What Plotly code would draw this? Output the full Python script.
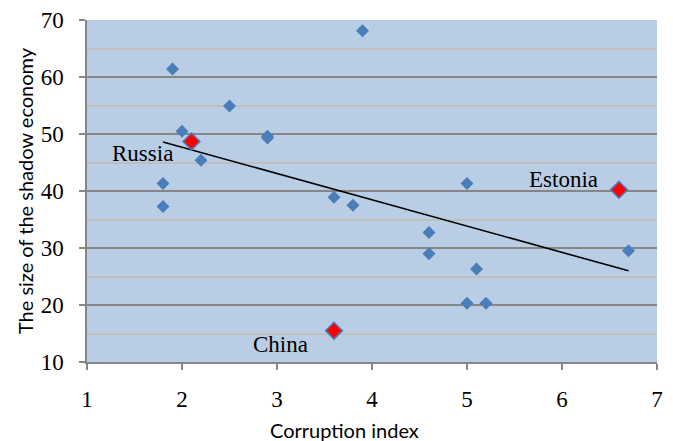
import plotly.graph_objects as go

# data
corruption = [1.9, 2.0, 2.2, 1.8, 1.8, 2.5, 2.9, 2.9, 3.9, 3.6, 3.8, 4.6, 4.6, 5.0, 5.1, 5.0, 5.2, 6.7]
shadow = [61.4, 50.5, 45.4, 41.3, 37.3, 54.9, 49.6, 49.3, 68.1, 38.9, 37.5, 32.7, 29.0, 41.3, 26.3, 20.3, 20.3, 29.5]

highlight_names = ["Russia", "China", "Estonia"]
highlight_x = [2.1, 3.6, 6.6]
highlight_y = [48.7, 15.5, 40.2]

label_x = [1.58, 3.04, 6.02]
label_y = [46.6, 13.1, 42.1]

trend_x = [1.8, 6.7]
trend_y = [48.6, 26.0]

x_ticks = [1, 2, 3, 4, 5, 6, 7]
y_ticks = [10, 20, 30, 40, 50, 60, 70]

x_title = "Corruption index"
y_title = "The size of the shadow economy"

serif = "Liberation Serif"
sans = "Lato"

fig = go.Figure()
fig.add_trace(go.Scatter(x=corruption, y=shadow, mode="markers",
                         marker=dict(symbol="diamond", size=10, color="#4A7EBB"),
                         showlegend=False, hoverinfo="x+y"))
fig.add_trace(go.Scatter(x=trend_x, y=trend_y, mode="lines",
                         line=dict(color="black", width=1.6), showlegend=False))
fig.add_trace(go.Scatter(x=highlight_x, y=highlight_y, mode="markers",
                         marker=dict(symbol="diamond", size=13, color="#FF0000",
                                     line=dict(color="#4A7EBB", width=1.5)),
                         text=highlight_names, showlegend=False))

for name, lx, ly in zip(highlight_names, label_x, label_y):
    fig.add_annotation(x=lx, y=ly, text=name, showarrow=False,
                       font=dict(family=serif, size=23, color="black"))

# x axis title (placed slightly left of centre, as in the original)
fig.add_annotation(x=0.451, y=-0.20, xref="paper", yref="paper", text=x_title,
                   showarrow=False, xanchor="center", yanchor="middle",
                   font=dict(family=sans, size=20, color="black"))

fig.update_layout(
    width=673, height=441,
    margin=dict(l=87, r=16, t=20, b=79),
    paper_bgcolor="white",
    plot_bgcolor="#B9CDE5",
    xaxis=dict(range=[1, 7], tickvals=x_ticks, showgrid=False, zeroline=False,
               automargin=False,
               showline=True, linecolor="#868686", linewidth=1.5,
               ticks="outside", ticklen=6, tickcolor="#868686", tickwidth=1.5,
               ticklabelstandoff=10,
               tickfont=dict(family=serif, size=23, color="black")),
    yaxis=dict(range=[10, 70], tickvals=y_ticks, showgrid=True, gridcolor="#868686",
               gridwidth=1.5, zeroline=False, automargin=False,
               minor=dict(dtick=5, tick0=0, showgrid=True, gridcolor="#BFBFBF", gridwidth=1.5),
               showline=True, linecolor="#868686", linewidth=1.5,
               ticks="outside", ticklen=6, tickcolor="#868686", tickwidth=1.5,
               ticklabelstandoff=11,
               tickfont=dict(family=serif, size=23, color="black"),
               title=dict(text=y_title, standoff=2,
                          font=dict(family=sans, size=20, color="black"))),
)

fig.write_html("out.html", config={"displayModeBar": False},
               post_script="document.body.style.margin='0';document.body.style.padding='0';document.body.style.overflow='hidden';")
